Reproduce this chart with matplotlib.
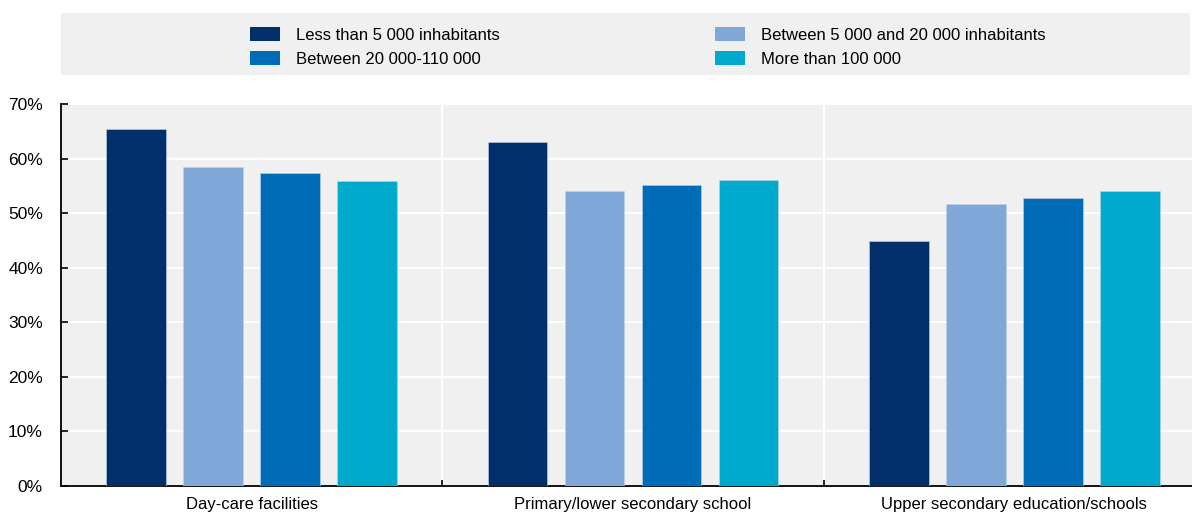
import numpy as np
import matplotlib
matplotlib.use("Agg")
import matplotlib.pyplot as plt
from matplotlib.patches import Patch

plt.rcParams["font.family"] = ["Liberation Sans", "DejaVu Sans"]

categories = ["Day-care facilities", "Primary/lower secondary school",
              "Upper secondary education/schools"]
series = ["Less than 5 000 inhabitants", "Between 5 000 and 20 000 inhabitants",
          "Between 20 000-110 000", "More than 100 000"]
less_5k = [65.5, 63.1, 44.9]
from_5k_to_20k = [58.5, 54.0, 51.7]
from_20k_to_110k = [57.4, 55.2, 52.7]
over_100k = [55.9, 56.1, 54.0]
values = [less_5k, from_5k_to_20k, from_20k_to_110k, over_100k]
colors = ["#002F6C", "#7FA8D9", "#006BB6", "#00AACC"]
BG = "#F0F0F0"

W, H = 1192, 514
fig = plt.figure(figsize=(W / 100, H / 100), dpi=100)
# plot area runs a little past the right edge of the canvas
ax = fig.add_axes([61 / W, 28 / H, (1205 - 61) / W, (486 - 104) / H])
ax.set_facecolor(BG)

x = np.arange(len(categories))
step, width = 0.202, 0.157
for i, (vals, col) in enumerate(zip(values, colors)):
    ax.bar(x + (i - 1.5) * step, vals, width, color=col, zorder=3,
           edgecolor="#BFD3EA", linewidth=0.4)

ax.set_xlim(-0.5, len(categories) - 0.5)
ax.set_ylim(0, 70)
ax.set_yticks(np.arange(0, 71, 10))
ax.set_yticklabels([f"{v}%" for v in range(0, 71, 10)], fontsize=12.5)
ax.set_xticks(x)
ax.set_xticklabels(categories, fontsize=12)
ax.tick_params(axis="x", which="major", length=0, pad=8)
ax.tick_params(axis="y", length=5, width=1.2, direction="in", pad=13)
ax.set_xticks(x[:-1] + 0.5, minor=True)
ax.tick_params(axis="x", which="minor", length=4, width=1.2, direction="in")

ax.grid(axis="y", color="white", lw=1.5, zorder=1)
for xs in x[:-1] + 0.5:
    ax.axvline(xs, color="white", lw=1.5, zorder=1)

for s in ["top", "right"]:
    ax.spines[s].set_visible(False)
for s in ["left", "bottom"]:
    ax.spines[s].set_linewidth(1.3)
    ax.spines[s].set_color("black")

# legend band above the plot
lax = fig.add_axes([61 / W, (H - 75) / H, (1190 - 61) / W, 62 / H])
lax.set_facecolor(BG)
lax.set_xticks([])
lax.set_yticks([])
for s in lax.spines.values():
    s.set_visible(False)

order = [0, 2, 1, 3]
handles = [Patch(facecolor=colors[i], label=series[i]) for i in order]
lax.legend(handles=handles, ncol=2, loc="center left", frameon=False,
           fontsize=12, handlelength=1.8, handleheight=0.9, handletextpad=0.95,
           columnspacing=12.95, labelspacing=0.5, borderpad=0, borderaxespad=0,
           bbox_to_anchor=((250 - 61) / (1190 - 61), 0.45))

fig.savefig("out.png", dpi=100)
